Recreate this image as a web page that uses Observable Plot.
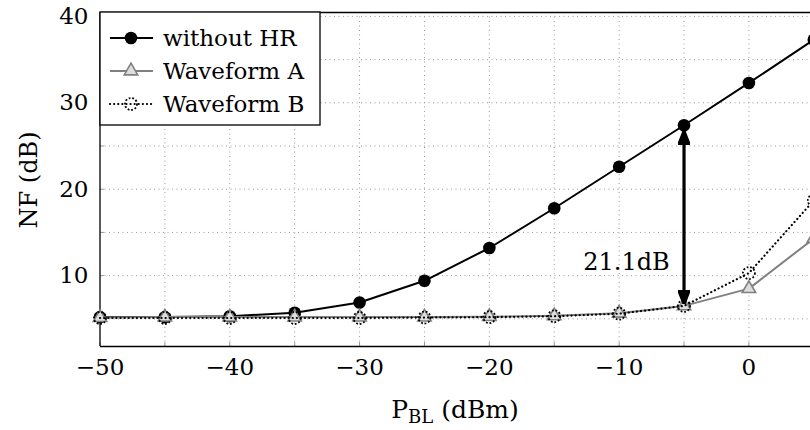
<!DOCTYPE html>
<html><head><meta charset="utf-8">
<script src="https://cdn.jsdelivr.net/npm/d3@7"></script>
<script src="https://cdn.jsdelivr.net/npm/@observablehq/plot@0.6"></script>
<style>
body{margin:0;background:#fff;overflow:hidden}
#wrap{position:relative;width:810px;height:430px;overflow:hidden}
#wrap svg{font-family:"DejaVu Serif",serif}
</style>
</head><body><div id="wrap"></div>
<script>
const pbl = [-50,-45,-40,-35,-30,-25,-20,-15,-10,-5,0,5];
const nfWithoutHR = [5.2,5.2,5.3,5.7,6.9,9.4,13.2,17.8,22.6,27.4,32.3,37.3];
const nfWaveformA = [5.15,5.2,5.2,5.2,5.2,5.2,5.25,5.35,5.65,6.5,8.5,14.3];
const nfWaveformB = [5.1,5.1,5.1,5.1,5.1,5.15,5.2,5.3,5.6,6.5,10.3,18.7];
const seriesNames = ["without HR","Waveform A","Waveform B"];
const xTicks = [-50,-40,-30,-20,-10,0];
const yTicks = [10,20,30,40];
const xGrid = [-45,-40,-35,-30,-25,-20,-15,-10,-5,0];
const yGrid = [5,10,15,20,25,30,35];
const annot = [{x:-5, y1:6.75, y2:26.7, label:"21.1dB", lx:-6.1, ly:11.5}];

const FONT = "DejaVu Serif", FS = 23;
const rows = (ys) => pbl.map((x,i)=>({x, y: ys[i]}));
const dHR = rows(nfWithoutHR), dA = rows(nfWaveformA), dB = rows(nfWaveformB);

const filledArrow = (color, context) => {
  const m = d3.create("svg:marker")
    .attr("viewBox","-14 -6 14 12").attr("markerWidth",14).attr("markerHeight",12)
    .attr("markerUnits","userSpaceOnUse").attr("orient","auto-start-reverse")
    .attr("refX",0).attr("refY",0);
  m.append("path").attr("d","M-14,-5.5L0,0L-14,5.5Z").attr("fill",color);
  return m.node();
};

const W = 810, H = 430;
const chart = Plot.plot({
  width: W, height: H,
  marginLeft: 100, marginTop: 12, marginBottom: 84, marginRight: 0,
  style: {fontFamily: FONT, fontSize: FS + "px", background: "white", color: "black"},
  x: {domain: [-50, 5], range: [99.5, 813.3]},
  y: {domain: [1.8, 40.45], range: [346, 12]},
  marks: [
    Plot.gridX(xGrid, {stroke: "#999", strokeOpacity: 1, strokeDasharray: "1,3.5"}),
    Plot.gridY(yGrid.concat([40]), {stroke: "#999", strokeOpacity: 1, strokeDasharray: "1,3.5"}),
    Plot.axisX(xGrid.concat([-50]), {tickSize: -4, stroke: "#999", text: null, label: null}),
    Plot.axisY(yGrid.concat([40]), {tickSize: -4, stroke: "#999", text: null, label: null}),
    Plot.axisX(xTicks, {tickSize: 0, tickPadding: 12, fontSize: FS, label: null}),
    Plot.axisY(yTicks, {tickSize: 0, tickPadding: 12, fontSize: FS, label: null}),
    Plot.ruleY([1.8], {stroke: "black", strokeWidth: 1.3}),
    Plot.ruleY([40.45], {stroke: "black", strokeWidth: 1.3}),
    Plot.ruleX([-50], {stroke: "black", strokeWidth: 1.3}),
    Plot.line(dHR, {x: "x", y: "y", stroke: "black", strokeWidth: 2}),
    Plot.dot(dHR, {x: "x", y: "y", r: 6.3, fill: "black"}),
    Plot.line(dA, {x: "x", y: "y", stroke: "#808080", strokeWidth: 2}),
    Plot.dot(dA, {x: "x", y: "y", symbol: "triangle", r: 5, fill: "#ddd", stroke: "#808080", strokeWidth: 1.6}),
    Plot.line(dB, {x: "x", y: "y", stroke: "black", strokeWidth: 2.2, strokeDasharray: "0.1,4", strokeLinecap: "round"}),
    Plot.dot(dB, {x: "x", y: "y", r: 6, fill: "none", stroke: "black", strokeWidth: 1.8, strokeDasharray: "1.8,1.8"}),
    Plot.link(annot, {x1: "x", x2: "x", y1: "y1", y2: "y2", stroke: "black", strokeWidth: 3.2, markerStart: filledArrow, markerEnd: filledArrow}),
    Plot.text(annot, {x: "lx", y: "ly", text: "label", textAnchor: "end", fontSize: 24, fill: "black"})
  ]
});
const wrap = document.getElementById("wrap");
wrap.appendChild(chart);

const svg = d3.select(chart);
// axis labels
const xl = svg.append("text").attr("x", 455).attr("y", 418).attr("text-anchor","middle")
  .attr("font-size", 25).attr("fill","black");
xl.append("tspan").text("P");
xl.append("tspan").attr("font-size", 18).attr("dy", 5).text("BL");
xl.append("tspan").attr("dy", -5).text(" (dBm)");
svg.append("text").attr("transform","translate(37,180) rotate(-90)").attr("text-anchor","middle")
  .attr("font-size", 24).attr("fill","black").text("NF (dB)");

// legend
const lg = svg.append("g");
lg.append("rect").attr("x",100).attr("y",12).attr("width",220).attr("height",113)
  .attr("fill","white").attr("stroke","black").attr("stroke-width",1.3);
const entries = [
  {name: seriesNames[0], stroke:"black", dash:null, marker:"circle"},
  {name: seriesNames[1], stroke:"#808080", dash:null, marker:"triangle"},
  {name: seriesNames[2], stroke:"black", dash:"0.1,4", marker:"dotted"}
];
entries.forEach((e,i)=>{
  const cy = 38 + i*33;
  lg.append("line").attr("x1",110).attr("x2",153).attr("y1",cy).attr("y2",cy)
    .attr("stroke",e.stroke).attr("stroke-width",e.dash ? 2.2 : 2).attr("stroke-dasharray",e.dash)
    .attr("stroke-linecap", e.dash ? "round" : null);
  if (e.marker==="circle") lg.append("circle").attr("cx",131).attr("cy",cy).attr("r",6.3).attr("fill","black");
  if (e.marker==="triangle") lg.append("path").attr("transform",`translate(131,${cy})`)
    .attr("d", d3.symbol(d3.symbolTriangle, 5*5*Math.PI)()).attr("fill","#ddd").attr("stroke","#808080").attr("stroke-width",1.6);
  if (e.marker==="dotted") lg.append("circle").attr("cx",131).attr("cy",cy).attr("r",6).attr("fill","none")
    .attr("stroke","black").attr("stroke-width",1.8).attr("stroke-dasharray","1.8,1.8");
  lg.append("text").attr("x",163).attr("y",cy).attr("dy","0.35em").attr("text-anchor","start")
    .attr("font-size",FS).attr("fill","black").text(e.name);
});
</script></body></html>
